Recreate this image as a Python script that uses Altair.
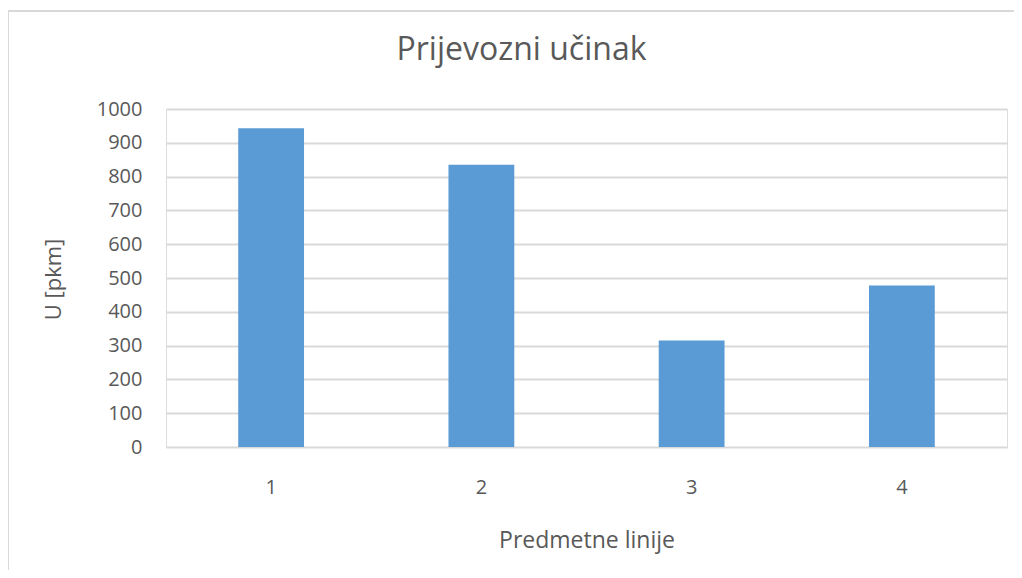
import altair as alt
import pandas as pd

categories = ["1", "2", "3", "4"]
values = [943, 835, 315, 478]

title_text = "Prijevozni učinak"
x_title = "Predmetne linije"
y_title = "U [pkm]"
y_ticks = [0, 100, 200, 300, 400, 500, 600, 700, 800, 900, 1000]

df = pd.DataFrame({"linija": categories, "U": values})

FONT = "Open Sans"
TEXT = "#595959"
GRID = "#D9D9D9"

bars = alt.Chart(df).mark_bar(
    color="#5B9BD5",
    width=alt.RelativeBandSize(0.313),
).encode(
    x=alt.X(
        "linija:N",
        sort=categories,
        scale=alt.Scale(paddingInner=0, paddingOuter=0),
        axis=alt.Axis(
            title=x_title,
            labelAngle=0,
            labelFontSize=20,
            labelFont=FONT,
            labelColor=TEXT,
            labelBaseline="alphabetic",
            labelPadding=46,
            ticks=False,
            tickSize=0,
            domain=False,
            grid=False,
            titleFont=FONT,
            titleFontSize=23,
            titleFontWeight="normal",
            titleColor=TEXT,
            titleBaseline="alphabetic",
            titleY=100,
        ),
    ),
    y=alt.Y(
        "U:Q",
        scale=alt.Scale(domain=[0, 1000], nice=False),
        axis=alt.Axis(
            title=y_title,
            values=y_ticks,
            format="d",
            labelFontSize=20,
            labelFont=FONT,
            labelColor=TEXT,
            labelPadding=24,
            ticks=False,
            tickSize=0,
            domain=False,
            grid=True,
            gridColor=GRID,
            gridWidth=2,
            titleFont=FONT,
            titleFontSize=22,
            titleFontWeight="normal",
            titleColor=TEXT,
            titleAngle=-90,
            titleAlign="center",
            titleBaseline="middle",
            titleX=-113,
            titleY=170,
        ),
    ),
)

frame_df = pd.DataFrame({"a": [0]})
frame_left = alt.Chart(frame_df).mark_rule(color=GRID, strokeWidth=2).encode(
    x=alt.value(-158),
    y=alt.value(-99),
    y2=alt.value(500),
)
frame_top = alt.Chart(frame_df).mark_rule(color=GRID, strokeWidth=2).encode(
    x=alt.value(-159),
    x2=alt.value(900),
    y=alt.value(-98),
)

chart = alt.layer(frame_left, frame_top, bars).properties(
    width=841,
    height=338,
    autosize=alt.AutoSizeParams(type="none"),
    padding={"left": 158, "top": 101, "right": 7, "bottom": 123},
    title=alt.TitleParams(
        text=title_text,
        font=FONT,
        fontSize=32,
        fontWeight="normal",
        color=TEXT,
        anchor="middle",
        dx=-65,
        dy=83,
        baseline="alphabetic",
        offset=0,
    ),
).configure_view(stroke=None).configure(background="white")

chart.save("out.html", embed_options={"renderer": "svg", "actions": False})
